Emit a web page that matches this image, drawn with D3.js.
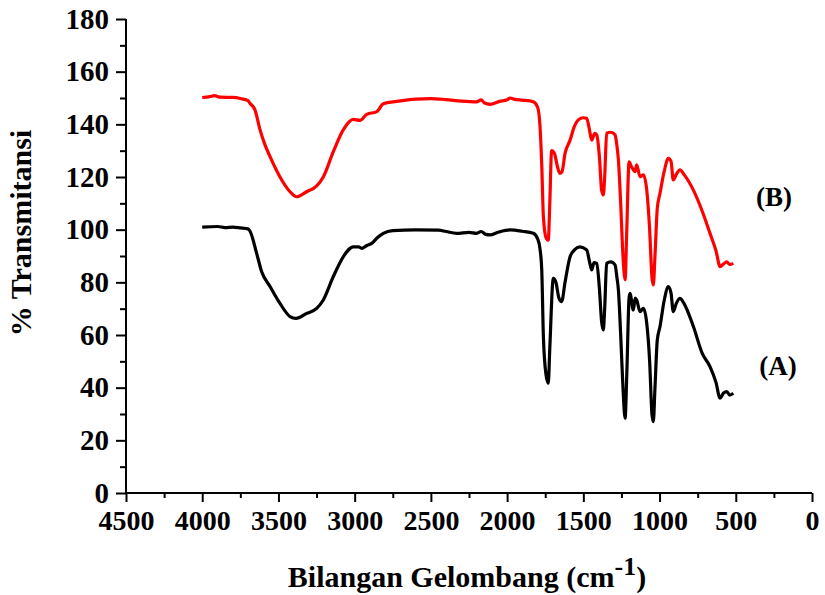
<!DOCTYPE html>
<html><head><meta charset="utf-8">
<script src="https://cdn.jsdelivr.net/npm/d3@7"></script>
<style>body{margin:0;background:#fff}svg{display:block}text{font-family:"Liberation Serif","Times New Roman",serif;font-weight:bold}</style>
</head><body><svg id="c" width="825" height="595"></svg>
<script>
const wavenumbersB = [4000,3950,3920,3880,3800,3750,3700,3687,3654,3621,3590,3555,3490,3424,3380,3315,3249,3206,3140,3075,3009,2965,2921,2855,2812,2724,2600,2500,2400,2300,2200,2170,2150,2112,2050,2000,1981,1950,1900,1828,1800,1785,1773,1762,1745,1730,1720,1708,1690,1670,1655,1640,1620,1587,1560,1533,1500,1478,1460,1445,1425,1412,1395,1380,1369,1360,1347,1320,1292,1280,1270,1255,1240,1226,1215,1200,1185,1172,1161,1150,1128,1106,1084,1065,1050,1041,1030,1015,997,970,942,925,910,890,866,840,778,720,669,630,603,580,559,540,516];
const seriesB = [150.2,150.5,150.9,150.3,150.2,149.8,149,148,145.5,138,132.5,127.7,120,114.4,112.5,114.4,116.6,120,129.6,137.9,141.9,141.5,143.8,144.8,147.8,148.7,149.6,149.8,149.4,148.8,148.5,149.3,148.2,147.6,148.7,149.3,150,149.5,149.2,148.6,146.5,140,125,105,97,96,110,130,129,124,121.4,122,129,134,139,141.7,142.5,142.3,138,134,136.6,136,128,115,113.2,120,136.6,137,136,132,126.5,110,90,81,100,125.8,124,122.7,122,124.6,120.1,120.8,115,100,82,79,90,108,113.8,122,127.1,126,118.9,121,122.7,121,115,107,98.6,92,86,87,87.8,86.8,87.2];
const wavenumbersA = [4000,3900,3850,3800,3750,3700,3687,3643,3610,3555,3490,3424,3385,3315,3249,3206,3140,3075,3009,2975,2954,2920,2888,2850,2812,2750,2600,2450,2400,2331,2250,2200,2170,2140,2112,2060,1981,1900,1828,1800,1785,1773,1762,1745,1730,1720,1697,1680,1660,1642,1620,1587,1555,1522,1478,1460,1445,1430,1412,1395,1380,1369,1360,1347,1320,1292,1280,1270,1255,1240,1226,1215,1200,1194,1172,1160,1150,1128,1106,1084,1065,1050,1041,1030,1015,997,970,942,925,910,890,866,840,778,720,669,630,603,580,559,540,516];
const seriesA = [101,101.2,100.8,101,100.7,100.3,99.5,91,84,78.4,72,67,66.3,68.2,70.1,73.3,82.2,89.7,93.5,93.5,92.9,94,94.8,97,98.6,99.6,99.9,99.8,99.3,98.6,99,98.6,99.3,98.2,98,99,99.9,99.4,98.6,96.5,93,85,59.4,45,41.7,55,81.5,80,74,72.7,80,89.7,92.5,93.5,92.3,88,84.7,87.5,87.2,78,65,61.9,70,87.2,87.8,86.6,82,77.1,60,40,28.4,45,74,75.8,69.5,74,73.3,68.9,70.1,64.4,50,30,27.1,40,58,63.2,73,78.4,76,68.9,72,73.9,72,63.2,53,48,42,36,38,38.5,37.2,37.9];
const xTicks = [4500,4000,3500,3000,2500,2000,1500,1000,500,0];
const yTicks = [0,20,40,60,80,100,120,140,160,180];
const seriesNames = ["(A)","(B)"];

const svg = d3.select("#c");
const x = d3.scaleLinear().domain([4500,0]).range([126,812]);
const y = d3.scaleLinear().domain([0,180]).range([493,19]);

const line = d3.line().x(d=>x(d[0])).y(d=>y(d[1])).curve(d3.curveMonotoneX);
const dataA = wavenumbersA.map((w,i)=>[w,seriesA[i]]);
const dataB = wavenumbersB.map((w,i)=>[w,seriesB[i]]);
svg.append("path").datum(dataB).attr("d",line).attr("fill","none").attr("stroke","#ff0000").attr("stroke-width",3.2).attr("stroke-linejoin","round");
svg.append("path").datum(dataA).attr("d",line).attr("fill","none").attr("stroke","#000").attr("stroke-width",3.2).attr("stroke-linejoin","round");

// x axis
const gx = svg.append("g").attr("transform","translate(0,493)");
gx.call(d3.axisBottom(x).tickValues(xTicks).tickFormat(d3.format("d")).tickSize(9).tickPadding(8));
gx.append("g").call(d3.axisBottom(x).tickValues(d3.range(4250,0,-500)).tickFormat("").tickSize(5));
gx.selectAll(".domain").attr("stroke-width",2).attr("d","M126,0H812");
gx.selectAll("line").attr("stroke-width",2);
gx.selectAll("text").attr("font-size",28).attr("font-family","Liberation Serif").attr("font-weight","bold").attr("fill","#000");

// y axis
const gy = svg.append("g").attr("transform","translate(126,0)");
gy.call(d3.axisLeft(y).tickValues(yTicks).tickSize(10).tickPadding(7));
gy.append("g").call(d3.axisLeft(y).tickValues(d3.range(10,180,20)).tickFormat("").tickSize(6));
gy.selectAll(".domain").attr("stroke-width",2).attr("d","M0,493V19");
gy.selectAll("line").attr("stroke-width",2);
gy.selectAll("text").attr("font-size",29).attr("font-family","Liberation Serif").attr("font-weight","bold").attr("fill","#000");

// titles
svg.append("text").attr("transform","translate(31,233) rotate(-90)").attr("text-anchor","middle").attr("font-size",30).text("% Transmitansi");
const xt = svg.append("text").attr("x",467).attr("y",587).attr("text-anchor","middle").attr("font-size",30);
xt.append("tspan").text("Bilangan Gelombang (cm");
xt.append("tspan").attr("dy",-12).attr("font-size",26).text("-1");
xt.append("tspan").attr("dy",12).text(")");

// series labels
svg.append("text").attr("x",774).attr("y",206).attr("text-anchor","middle").attr("font-size",27).text(seriesNames[1]);
svg.append("text").attr("x",778).attr("y",375).attr("text-anchor","middle").attr("font-size",27).text(seriesNames[0]);
</script></body></html>
